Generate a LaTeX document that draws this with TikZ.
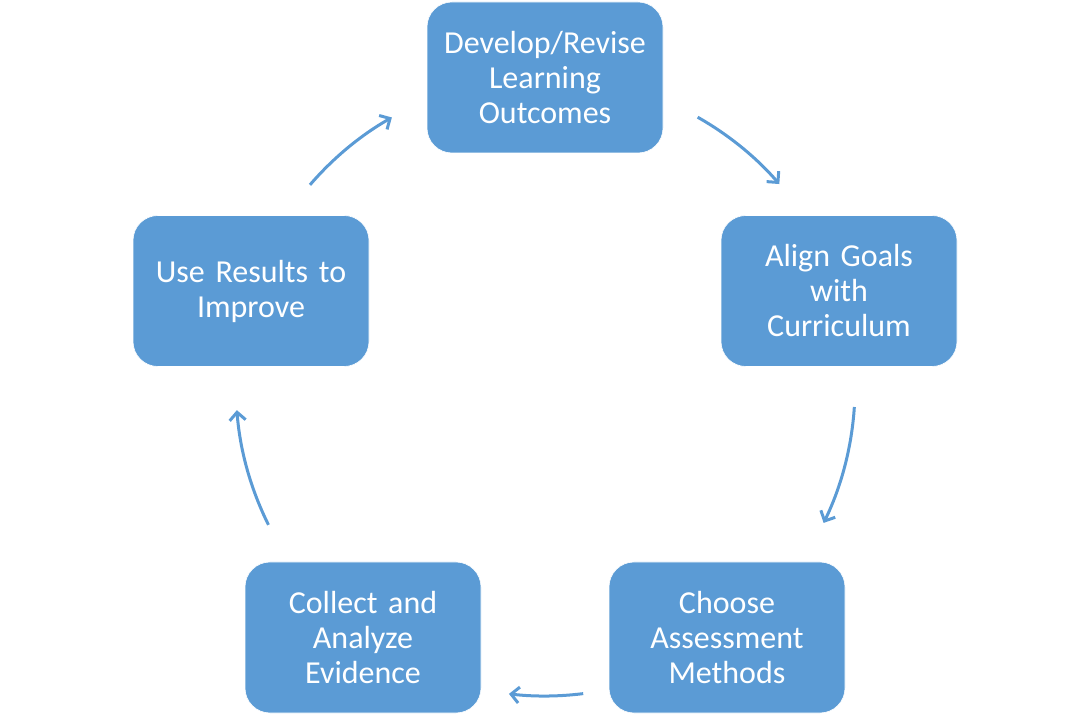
\documentclass[tikz,border=0pt]{standalone}
\usepackage{fontspec}
\setmainfont{Carlito}
\usetikzlibrary{arrows.meta}
\definecolor{boxblue}{HTML}{5B9BD5}
\tikzset{
  stepbox/.style={draw=white, line width=0.6pt, fill=boxblue, rounded corners=25pt,
    minimum width=236pt, minimum height=151pt, inner sep=0pt, text width=230pt,
    align=center, text=white, font=\fontsize{32}{35}\selectfont},
  arr/.style={draw=boxblue, line width=3pt, -{Straight Barb[length=8pt,width=16pt]}}
}
\begin{document}
\begin{tikzpicture}
\useasboundingbox (0pt,0pt) rectangle (1090pt,726pt);
\coordinate (c) at (545pt,339pt);
\node[stepbox] (dev) at (545pt,648.5pt) {Develop/Revise\\Learning\\Outcomes};
\node[stepbox] (align) at (839pt,435pt) {Align Goals\\with\\Curriculum};
\node[stepbox] (choose) at (727pt,88.5pt) {Choose\\Assessment\\Methods};
\node[stepbox] (collect) at (363pt,88.5pt) {Collect and\\Analyze\\Evidence};
\node[stepbox] (use) at (251pt,435pt) {Use Results to\\Improve};
\path (c) ++(60.5:310pt) coordinate (s1);
\path (c) ++(-3.7:310pt) coordinate (s2);
\path (c) ++(-82.9:309pt) coordinate (s3);
\path (c) ++(206.5:309pt) coordinate (s4);
\path (c) ++(139.3:310pt) coordinate (s5);
\draw[arr] (s1) arc[start angle=60.5, end angle=40.9, radius=310pt];
\draw[arr] (s2) arc[start angle=-3.7, end angle=-26, radius=310pt];
\draw[arr] (s3) arc[start angle=-82.9, end angle=-96.7, radius=309pt];
\draw[arr] (s4) arc[start angle=206.5, end angle=184.3, radius=309pt];
\draw[arr] (s5) arc[start angle=139.3, end angle=119.6, radius=310pt];
\end{tikzpicture}
\end{document}
